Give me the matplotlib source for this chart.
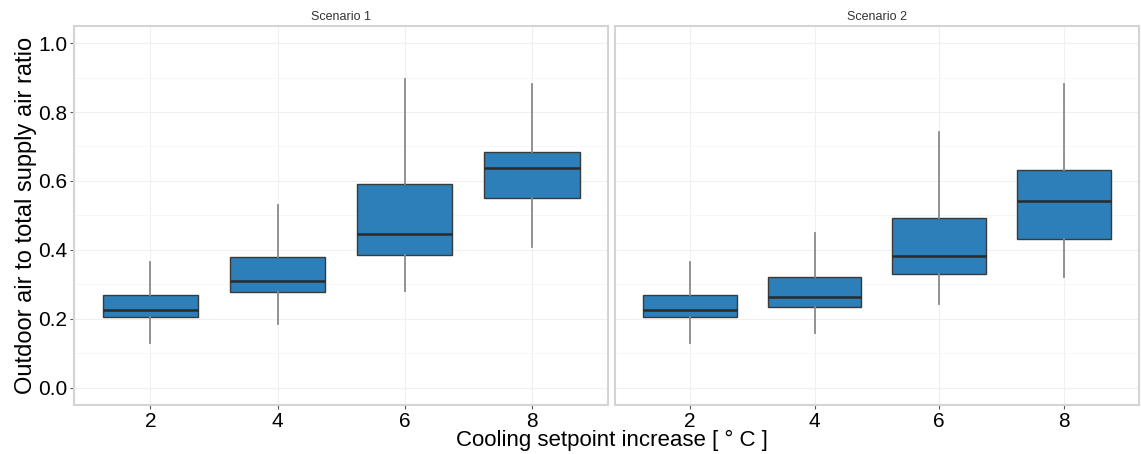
import matplotlib.pyplot as plt

plt.rcParams['font.family'] = ['Liberation Sans', 'DejaVu Sans']

categories = ["2", "4", "6", "8"]
panel_titles = ["Scenario 1", "Scenario 2"]

# whisker low, Q1, median, Q3, whisker high
s1_low = [0.13, 0.185, 0.28, 0.408]
s1_q1 = [0.205, 0.278, 0.385, 0.552]
s1_med = [0.225, 0.31, 0.445, 0.638]
s1_q3 = [0.27, 0.38, 0.59, 0.685]
s1_high = [0.365, 0.53, 0.895, 0.88]

s2_low = [0.13, 0.16, 0.242, 0.32]
s2_q1 = [0.205, 0.235, 0.33, 0.433]
s2_med = [0.227, 0.263, 0.382, 0.542]
s2_q3 = [0.27, 0.322, 0.493, 0.632]
s2_high = [0.365, 0.448, 0.742, 0.882]

y_ticks = [0.0, 0.2, 0.4, 0.6, 0.8, 1.0]


def make_stats(low, q1, med, q3, high):
    stats = []
    for i in range(len(categories)):
        stats.append({"whislo": low[i], "q1": q1[i], "med": med[i],
                      "q3": q3[i], "whishi": high[i], "fliers": []})
    return stats


fig = plt.figure(figsize=(11.41, 4.54), dpi=100)
ax1 = fig.add_axes([0.065, 0.108, 0.468, 0.835])
ax2 = fig.add_axes([0.539, 0.108, 0.459, 0.835])

panels = [
    (ax1, make_stats(s1_low, s1_q1, s1_med, s1_q3, s1_high)),
    (ax2, make_stats(s2_low, s2_q1, s2_med, s2_q3, s2_high)),
]

for k, (ax, stats) in enumerate(panels):
    ax.bxp(stats, positions=range(1, len(categories) + 1), widths=0.75,
           showcaps=False, showfliers=False, patch_artist=True,
           boxprops=dict(facecolor="#2c7fb8", edgecolor="#3a3a3a", linewidth=1.0),
           whiskerprops=dict(color="#8a8a8a", linewidth=1.3),
           medianprops=dict(color="#2a2a2a", linewidth=1.8))
    ax.set_xlim(0.4, 4.6)
    ax.set_ylim(-0.05, 1.05)
    ax.set_xticks(range(1, len(categories) + 1))
    ax.set_xticklabels(categories)
    ax.set_yticks(y_ticks)
    ax.set_yticks([0.1, 0.3, 0.5, 0.7, 0.9], minor=True)
    ax.grid(True, which="major", color="#f0f0f0", linewidth=0.8)
    ax.grid(True, which="minor", axis="y", color="#f6f6f6", linewidth=0.6)
    ax.set_axisbelow(True)
    for sp in ax.spines.values():
        sp.set_color("#d4d4d4")
        sp.set_linewidth(1.5)
    ax.tick_params(axis="both", which="major", labelsize=15, color="#555555",
                   length=3, width=0.8, pad=2)
    ax.tick_params(axis="y", which="minor", length=0)
    ax.set_title(panel_titles[k], fontsize=9, color="#333333", pad=4)
    if k == 0:
        ax.set_yticklabels(["%.1f" % v for v in y_ticks])
    else:
        ax.tick_params(axis="y", which="major", length=0, labelleft=False)

ax1.set_ylabel("Outdoor air to total supply air ratio", fontsize=17, labelpad=1)
fig.text(0.536, 0.03, "Cooling setpoint increase [ ° C ]", fontsize=16,
         ha="center", va="center")

fig.savefig("out.png", dpi=100, facecolor="white")
